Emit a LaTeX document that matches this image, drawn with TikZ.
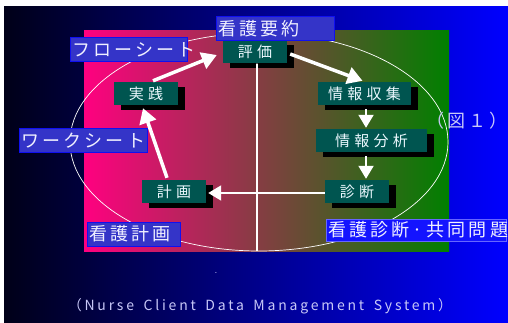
\documentclass[tikz,border=0pt]{standalone}
\usepackage{fontspec}
\usetikzlibrary{shadows,arrows.meta}
\newfontfamily\jpA[LetterSpace=18]{Noto Sans CJK JP}
\newfontfamily\jpB[LetterSpace=28]{Noto Sans CJK JP}
\newfontfamily\jpC[LetterSpace=20,WordSpace=1.6]{Noto Sans CJK JP}
\definecolor{bgL}{HTML}{000018}
\definecolor{bgR}{HTML}{0000FF}
\definecolor{inL}{HTML}{FF0080}
\definecolor{inR}{HTML}{008000}
\definecolor{boxteal}{HTML}{005550}
\definecolor{lblfill}{HTML}{3434C8}
\definecolor{lbldraw}{HTML}{1010F0}
\definecolor{lbltext}{HTML}{F0F0FF}
\definecolor{paletext}{HTML}{C8C8F8}
\tikzset{
  stepbox/.style={fill=boxteal, text=white!92!cyan, minimum height=23pt, inner sep=0pt,
    font=\jpB\fontsize{15}{15}\selectfont,
    drop shadow={shadow xshift=7pt, shadow yshift=-5pt, fill=black, opacity=1}},
  lbl/.style={fill=lblfill, draw=lbldraw, line width=1pt, text=lbltext, minimum height=24pt,
    inner xsep=2pt, inner ysep=0pt, align=left, font=\jpA\fontsize{18}{18}\selectfont},
  arr/.style={white, line width=3.5pt, -{Triangle[length=15pt,width=17pt]}},
  thinarr/.style={white, line width=2pt, -{Triangle[length=13pt,width=15pt]}},
}
\begin{document}
\begin{tikzpicture}[x=1pt,y=-1pt]
\useasboundingbox (0,0) rectangle (508,323);
% backgrounds
\shade[left color=bgL, right color=bgR] (4,7) rectangle (508,323);
\shade[left color=inL, right color=inR] (84,31) rectangle (449,251);
% ellipse
\draw[white, line width=0.7pt] (259,142) ellipse [x radius=189, y radius=109];
\coordinate (ebot) at (257,251);
% nodes
\node[stepbox, minimum width=64pt] (hyoka) at (255,52) {評価};
\node[stepbox, minimum width=64pt] (jissen) at (146,93.5) {実践};
\node[stepbox, minimum width=93pt] (shuushuu) at (364.5,93.5) {情報収集};
\node[stepbox, minimum width=111pt] (bunseki) at (371.5,140.5) {情報分析};
\node[stepbox, minimum width=64pt] (shindan) at (357,191.5) {診断};
\node[stepbox, minimum width=64pt] (keikaku) at (174,191.5) {計画};
% vertical line
\draw[white, line width=2pt] ([xshift=2pt,yshift=-6pt]hyoka.south) -- (hyoka.south -| ebot) -- (ebot);
% arrows
\draw[arr] ([xshift=7pt,yshift=1pt]jissen.north) -- ([xshift=-6pt,yshift=-3pt]hyoka.west);
\draw[arr] ([xshift=3pt,yshift=-2pt]hyoka.east) -- ([xshift=-2pt,yshift=1pt]shuushuu.north);
\draw[thinarr] ([xshift=1.5pt,yshift=-4pt]shuushuu.south) -- ([xshift=1.5pt,yshift=1pt]shuushuu.south |- bunseki.north);
\draw[thinarr] ([xshift=-5.5pt,yshift=-4pt]bunseki.south) -- ([xshift=-5.5pt,yshift=1pt]bunseki.south |- shindan.north);
\draw[thinarr] ([yshift=-1.5pt]shindan.west) -- ([xshift=2pt,yshift=-1.5pt]keikaku.east);
\draw[arr] ([xshift=-7pt,yshift=2pt]keikaku.north) -- ([xshift=-3pt,yshift=-3pt]jissen.south);
% labels
\node[lbl, text width=114pt] (youyaku) at (275,29) {看護要約};
\node[lbl, text width=113pt] (flow) at (128.5,50) {フローシート};
\node[lbl, text width=124pt] (work) at (83,140.5) {ワークシート};
\node[lbl, text width=89pt] (keikakulbl) at (133.5,234) {看護計画};
\node[lbl, fill=blue!92!white, draw=blue!60!white, text width=176pt, minimum height=22pt] (shindanlbl) at (416,230) {看護診断·共同問題};
% texts
\node[text=paletext, inner sep=0pt, font=\jpA\fontsize{18}{18}\selectfont] (zu) at (467,121) {（図１）};
\node[text=paletext, inner sep=0pt, font=\fontsize{10}{10}\selectfont] (dot) at (216,273) {.};
\node[text=paletext, inner sep=0pt, font=\jpC\fontsize{14}{14}\selectfont] (sys) at (260,306) {（Nurse Client Data Management System）};
\end{tikzpicture}
\end{document}
